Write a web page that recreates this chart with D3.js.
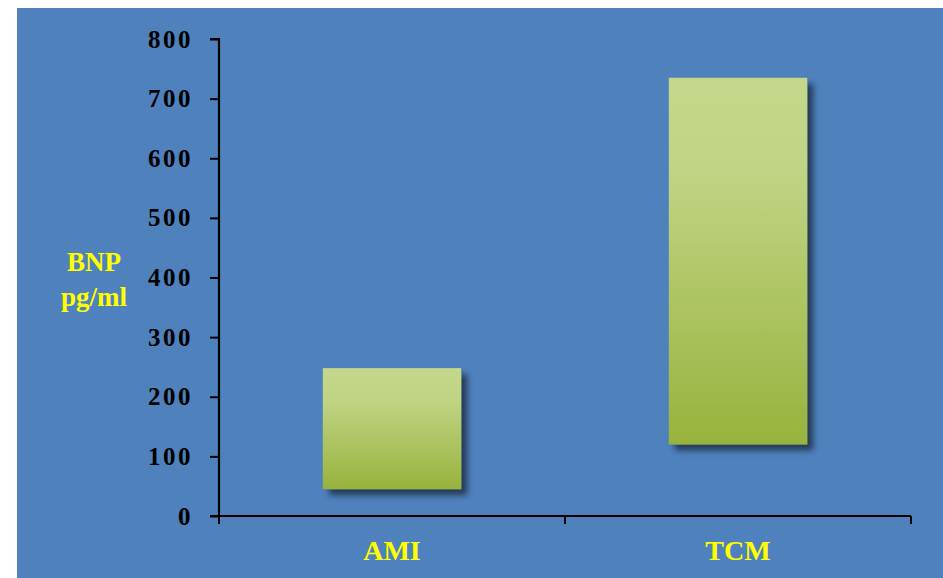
<!DOCTYPE html>
<html>
<head>
<meta charset="utf-8">
<script src="https://cdn.jsdelivr.net/npm/d3@7"></script>
<style>
  html, body { margin: 0; padding: 0; background: #ffffff; }
  svg { display: block; }
</style>
</head>
<body>
<svg id="chart" width="943" height="578"></svg>
<script>
// BNP range per diagnosis (pg/ml): floating bars from low to high
const categories = ["AMI", "TCM"];
const lowValues = [45, 120];
const highValues = [248, 735];
const yTicks = [0, 100, 200, 300, 400, 500, 600, 700, 800];
const yLabelLines = ["BNP", "pg/ml"];

const svg = d3.select("#chart");
const W = 943, H = 578;

// blue panel
svg.append("rect")
  .attr("x", 17).attr("y", 8)
  .attr("width", W - 17).attr("height", H - 8)
  .attr("fill", "#4f81bd");

const defs = svg.append("defs");
const grad = defs.append("linearGradient")
  .attr("id", "barGrad").attr("x1", 0).attr("y1", 0).attr("x2", 0).attr("y2", 1);
grad.append("stop").attr("offset", "0%").attr("stop-color", "#c5d78a");
grad.append("stop").attr("offset", "25%").attr("stop-color", "#c1d485");
grad.append("stop").attr("offset", "100%").attr("stop-color", "#98b33d");

const shadow = defs.append("filter")
  .attr("id", "barShadow")
  .attr("x", "-20%").attr("y", "-20%").attr("width", "150%").attr("height", "150%");
shadow.append("feGaussianBlur").attr("in", "SourceAlpha").attr("stdDeviation", 3).attr("result", "blur");
shadow.append("feOffset").attr("in", "blur").attr("dx", 6).attr("dy", 6).attr("result", "off");
shadow.append("feComponentTransfer").attr("in", "off").attr("result", "soft")
  .append("feFuncA").attr("type", "linear").attr("slope", 0.55);
const merge = shadow.append("feMerge");
merge.append("feMergeNode").attr("in", "soft");
merge.append("feMergeNode").attr("in", "SourceGraphic");

const x0 = 219, x1 = 911, yTop = 39, yBottom = 516;

const x = d3.scaleBand().domain(categories).range([x0, x1]).paddingInner(0).paddingOuter(0);
const y = d3.scaleLinear().domain([0, 800]).range([yBottom, yTop]);

const barW = x.bandwidth() * 0.4;

// bars
svg.append("g").selectAll("rect")
  .data(categories)
  .join("rect")
  .attr("x", d => x(d) + (x.bandwidth() - barW) / 2)
  .attr("width", barW)
  .attr("y", (d, i) => y(highValues[i]))
  .attr("height", (d, i) => y(lowValues[i]) - y(highValues[i]))
  .attr("fill", "url(#barGrad)")
  .attr("filter", "url(#barShadow)");

// y axis
const yAxis = svg.append("g")
  .attr("transform", `translate(${x0},0)`)
  .call(d3.axisLeft(y).tickValues(yTicks).tickSize(9).tickPadding(17).tickFormat(d3.format("d")));
yAxis.select(".domain").attr("stroke", "#000").attr("stroke-width", 2.2)
  .attr("d", `M-9,${yTop}H0V${yBottom}`);
yAxis.selectAll(".tick line").attr("stroke", "#000").attr("stroke-width", 2);
yAxis.selectAll(".tick text")
  .attr("fill", "#000")
  .attr("font-family", "'Liberation Serif', 'DejaVu Serif', serif")
  .attr("font-weight", "bold")
  .attr("font-size", 25)
  .attr("letter-spacing", 2.5);

// x axis with ticks at category boundaries
const xAxisG = svg.append("g").attr("transform", `translate(0,${yBottom})`);
xAxisG.append("line")
  .attr("x1", x0 - 9).attr("x2", x1).attr("y1", 0).attr("y2", 0)
  .attr("stroke", "#000").attr("stroke-width", 2.2);
const boundaries = categories.map(c => x(c)).concat([x(categories[categories.length - 1]) + x.bandwidth()]);
xAxisG.selectAll("line.bt")
  .data(boundaries)
  .join("line")
  .attr("class", "bt")
  .attr("x1", d => d).attr("x2", d => d)
  .attr("y1", 0).attr("y2", 8)
  .attr("stroke", "#000").attr("stroke-width", 2);
xAxisG.selectAll("text")
  .data(categories)
  .join("text")
  .attr("x", d => x(d) + x.bandwidth() / 2)
  .attr("y", 44)
  .attr("text-anchor", "middle")
  .attr("fill", "#ffff00")
  .attr("font-family", "'Liberation Serif', serif")
  .attr("font-weight", "bold")
  .attr("font-size", 28)
  .text(d => d);

// y axis title
const title = svg.append("text")
  .attr("text-anchor", "middle")
  .attr("fill", "#ffff00")
  .attr("font-family", "'Liberation Serif', serif")
  .attr("font-weight", "bold")
  .attr("font-size", 27);
title.selectAll("tspan")
  .data(yLabelLines)
  .join("tspan")
  .attr("x", 94)
  .attr("y", (d, i) => 271 + i * 35)
  .text(d => d);
</script>
</body>
</html>
